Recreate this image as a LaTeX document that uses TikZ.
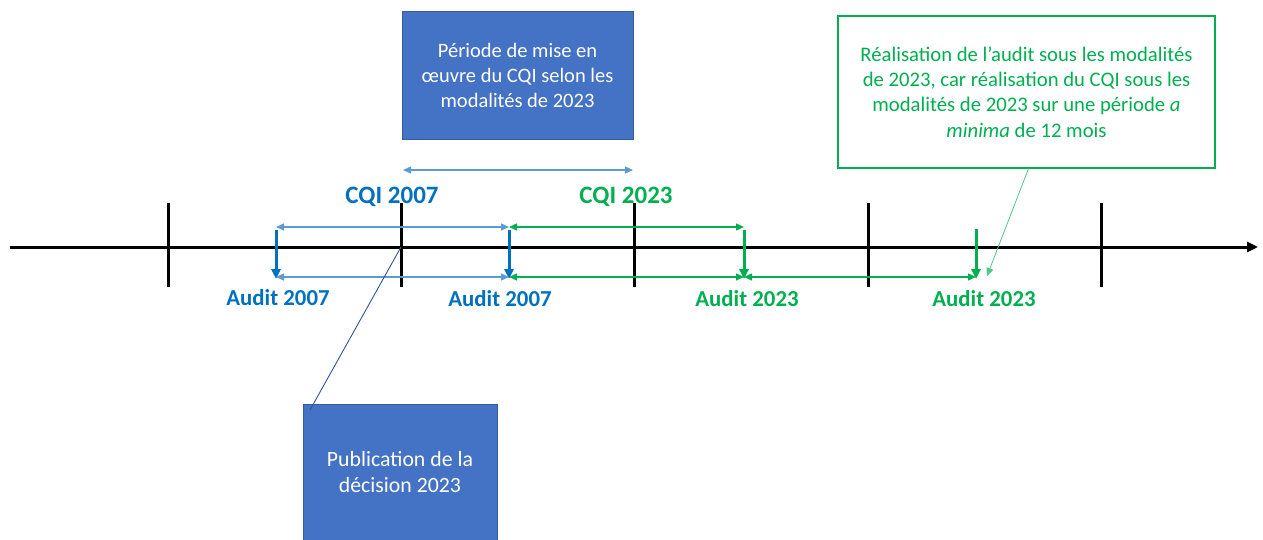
\documentclass[tikz,border=0pt]{standalone}
\usepackage{fontspec}
\setmainfont{Carlito}
\usetikzlibrary{arrows.meta}
\definecolor{boxblue}{HTML}{4472C4}
\definecolor{audblue}{HTML}{0070C0}
\definecolor{spanblue}{HTML}{5B9BD5}
\definecolor{okgreen}{HTML}{00B050}
\definecolor{navyline}{HTML}{2F5597}
\begin{document}
\begin{tikzpicture}[x=1pt,y=-1pt,
  bluebox/.style={draw=boxblue!80!black, line width=0.6pt, fill=boxblue, text=white,
    align=center, font=\fontsize{20.5}{25}\selectfont, inner sep=0pt},
  notebox/.style={draw=okgreen, line width=1.2pt, fill=white, text=okgreen,
    align=center, font=\fontsize{20.7}{25.3}\selectfont, inner sep=0pt},
  lbl/.style={font=\bfseries\fontsize{25}{28}\selectfont, inner sep=0pt},
  audlbl/.style={font=\bfseries\fontsize{22.8}{26}\selectfont, inner sep=0pt},
  axisline/.style={line width=3pt, -{Triangle[length=11pt,width=10pt]}},
  tickline/.style={line width=3pt},
  auditarrow/.style={line width=3pt, -{Triangle[length=10pt,width=9pt]}},
  spanarrow/.style={line width=1.3pt, {Triangle[length=8pt,width=7pt]}-{Triangle[length=8pt,width=7pt]}},
  leader/.style={line width=0.9pt}]
\useasboundingbox (0,0) rectangle (1263,540);

% time axis and ticks
\coordinate (ax0) at (10,247);
\coordinate (ax1) at (1258,247);
\draw[axisline] (ax0) -- (ax1);
\foreach \x/\n in {168/t1,401/t2,634/t3,868/t4,1101/t5}{
  \coordinate (\n top) at (\x,203);
  \coordinate (\n bot) at (\x,287);
  \coordinate (\n) at (\x,247);
  \draw[tickline] (\n top) -- (\n bot);
}

% audit markers
\coordinate (a1top) at (276,230); \coordinate (a1bot) at (276,279);
\coordinate (a2top) at (509,230); \coordinate (a2bot) at (509,279);
\coordinate (a3top) at (744,230); \coordinate (a3bot) at (744,279);
\coordinate (a4top) at (976,229); \coordinate (a4bot) at (976,279);
\draw[auditarrow, audblue] (a1top) -- (a1bot);
\draw[auditarrow, audblue] (a2top) -- (a2bot);
\draw[auditarrow, okgreen] (a3top) -- (a3bot);
\draw[auditarrow, okgreen] (a4top) -- (a4bot);

% spans between audits
\coordinate (u1) at (276,227); \coordinate (u2) at (509,227); \coordinate (u3) at (744,227);
\coordinate (l1) at (276,277); \coordinate (l2) at (509,277); \coordinate (l3) at (744,277); \coordinate (l4) at (976,277);
\draw[spanarrow, spanblue] (u1) -- (u2);
\draw[spanarrow, spanblue] (l1) -- (l2);
\draw[spanarrow, okgreen] (u2) -- (u3);
\draw[spanarrow, okgreen] (l2) -- (l3);
\draw[spanarrow, okgreen] (l3) -- (l4);

% labels
\node[lbl, text=audblue] (cqi07) at (392,197) {CQI 2007};
\node[lbl, text=okgreen] (cqi23) at (626,197) {CQI 2023};
\node[audlbl, text=audblue] (aud1) at (278,298) {Audit 2007};
\node[audlbl, text=audblue] (aud2) at (500,299) {Audit 2007};
\node[audlbl, text=okgreen] (aud3) at (747,299) {Audit 2023};
\node[audlbl, text=okgreen] (aud4) at (984,299) {Audit 2023};

% implementation period box and its span
\node[bluebox, minimum width=231pt, minimum height=128pt] (period) at (517.5,75)
  {Période de mise en\\œuvre du CQI selon les\\modalités de 2023};
\coordinate (p0) at (403,170); \coordinate (p1) at (633,170);
\draw[spanarrow, spanblue] (p0) -- (p1);

% publication box
\node[bluebox, minimum width=194pt, minimum height=136pt, font=\fontsize{21.8}{26}\selectfont] (pub) at (400,472)
  {Publication de la\\décision 2023};
\coordinate (pubpin) at (310,410);
\draw[leader, navyline] (pubpin) -- (t2);

% note box
\node[notebox, minimum width=377pt, minimum height=152pt] (note) at (1026.5,92)
  {Réalisation de l’audit sous les modalités\\de 2023, car réalisation du CQI sous les\\modalités de 2023 sur une période \textit{a}\\\textit{minima} de 12 mois};
\coordinate (notepin) at (987,276);
\draw[leader, okgreen!70, line width=0.8pt, -{Triangle[length=8pt,width=7pt]}] ([xshift=2pt]note.south) -- (notepin);
\end{tikzpicture}
\end{document}
